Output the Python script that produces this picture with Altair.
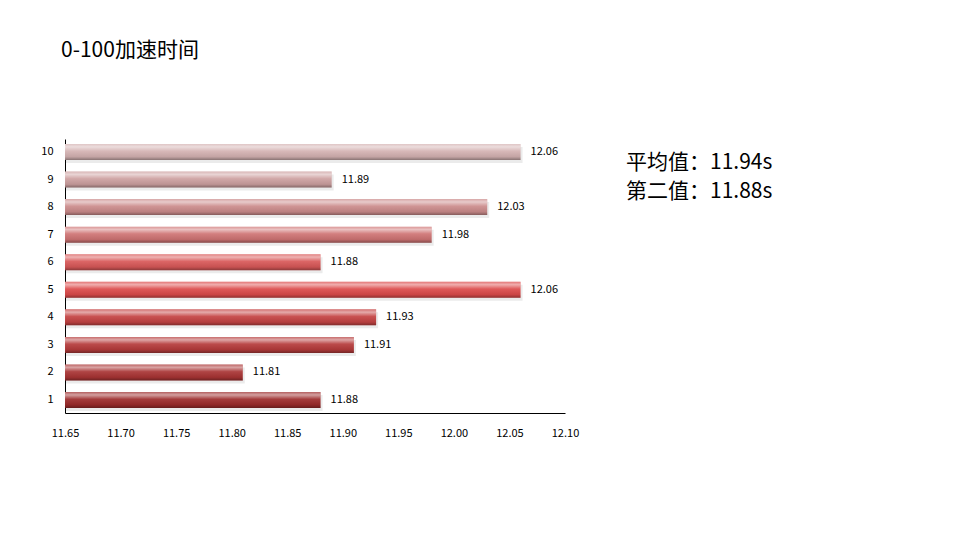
import altair as alt
import pandas as pd

categories = ["1", "2", "3", "4", "5", "6", "7", "8", "9", "10"]
values = [11.88, 11.81, 11.91, 11.93, 12.06, 11.88, 11.98, 12.03, 11.89, 12.06]
bar_colors = ["#9C2B2B", "#A93434", "#B53B3B", "#C44343", "#DC4B4B",
              "#D85858", "#CF7474", "#CB8B8B", "#CDA0A0", "#D4B2B2"]
x_ticks = [11.65, 11.70, 11.75, 11.80, 11.85, 11.90, 11.95, 12.00, 12.05, 12.10]
title_text = "0-100加速时间"
note_lines = ["平均值：11.94s", "第二值：11.88s"]

df = pd.DataFrame({
    "cat": categories,
    "val": values,
    "base": [x_ticks[0]] * len(values),
    "label": [f"{v:.2f}" for v in values],
})

FONT = "Noto Sans CJK SC"
order = list(reversed(categories))

x_enc = alt.X("val:Q",
              scale=alt.Scale(domain=[x_ticks[0], x_ticks[-1]], zero=False, nice=False),
              axis=alt.Axis(values=x_ticks, format=".2f", title=None, grid=False,
                            ticks=False, tickSize=0, labelPadding=14, labelFlush=False,
                            domainColor="#000000", labelColor="#000000",
                            labelFontSize=11, labelFont=FONT))
y_enc = alt.Y("cat:N", sort=order,
              scale=alt.Scale(paddingInner=0.42, paddingOuter=0.18),
              axis=alt.Axis(title=None, ticks=False, tickSize=0, labelPadding=12,
                            domainColor="#000000", labelColor="#000000",
                            labelFontSize=11, labelFont=FONT))

base = alt.Chart(df)

shadow = base.mark_bar(color="#000000", opacity=0.08, yOffset=3, xOffset=2).encode(
    x=x_enc, x2="base:Q", y=y_enc)

bars = base.mark_bar().encode(
    x=x_enc, x2="base:Q", y=y_enc,
    color=alt.Color("cat:N", scale=alt.Scale(domain=categories, range=bar_colors), legend=None),
)

gloss = base.mark_bar(
    color=alt.Gradient(
        gradient="linear", x1=0, x2=0, y1=0, y2=1,
        stops=[
            alt.GradientStop(offset=0.0, color="rgba(255,255,255,0.25)"),
            alt.GradientStop(offset=0.18, color="rgba(255,255,255,0.55)"),
            alt.GradientStop(offset=0.45, color="rgba(255,255,255,0.08)"),
            alt.GradientStop(offset=0.8, color="rgba(0,0,0,0.08)"),
            alt.GradientStop(offset=1.0, color="rgba(0,0,0,0.35)"),
        ],
    )
).encode(x=x_enc, x2="base:Q", y=y_enc)

labels = base.mark_text(align="left", baseline="middle", dx=10, fontSize=11,
                        font=FONT, color="#000000").encode(
    x=x_enc, y=y_enc, text="label:N")

title = alt.Chart(pd.DataFrame({"t": [title_text]})).mark_text(
    align="left", baseline="alphabetic", fontSize=21, font=FONT, color="#000000"
).encode(x=alt.value(-4), y=alt.value(-82), text="t:N")

note1 = alt.Chart(pd.DataFrame({"t": [note_lines[0]]})).mark_text(
    align="left", baseline="alphabetic", fontSize=21, font=FONT, color="#000000"
).encode(x=alt.value(561), y=alt.value(30), text="t:N")

note2 = alt.Chart(pd.DataFrame({"t": [note_lines[1]]})).mark_text(
    align="left", baseline="alphabetic", fontSize=21, font=FONT, color="#000000"
).encode(x=alt.value(561), y=alt.value(59), text="t:N")

chart = alt.layer(shadow, bars, gloss, labels, title, note1, note2).properties(
    width=500, height=274,
    autosize=alt.AutoSizeParams(type="none"),
    padding={"left": 57, "top": 131, "right": 380, "bottom": 110},
    background="#ffffff",
).configure_view(stroke=None)

chart.save("out.html", embed_options={"renderer": "svg", "actions": False})
